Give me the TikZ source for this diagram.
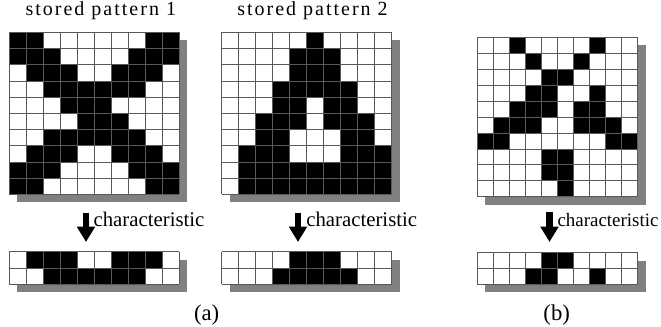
\documentclass[tikz,border=0pt]{standalone}
\usepackage{fontspec}
\setmainfont{Liberation Serif}
\newfontfamily\spacedfont[LetterSpace=10]{Liberation Serif}
\usetikzlibrary{arrows.meta}

\tikzset{
  cellfill/.style={fill=black},
  gridline/.style={draw=black!65, line width=0.55pt},
  shadowbox/.style={fill=black!50},
  bigarrow/.style={line width=5pt, -{Triangle[width=13pt,length=11.5pt]}},
  chartext/.style={font=\fontsize{15.6}{18}\selectfont, anchor=base west, inner sep=0pt},
  titletext/.style={font=\spacedfont\fontsize{15}{17}\selectfont, anchor=base, inner sep=0pt},
  captext/.style={font=\fontsize{17}{20}\selectfont, anchor=base, inner sep=0pt},
}

% #1 name, #2 x0, #3 y0, #4 cell w, #5 cell h, #6 rows count, #7 rows
\newcommand\pixgrid[7]{%
  \fill[shadowbox] (#2+8,#3+8) rectangle ++(10*#4,#6*#5);
  \fill[white] (#2,#3) rectangle ++(10*#4,#6*#5);
  \foreach \prow [count=\pr from 0] in {#7} {
    \foreach \pb [count=\pc from 0] in \prow {
      \ifnum\pb=1 \fill[cellfill] (#2+\pc*#4,#3+\pr*#5) rectangle ++(#4,#5);\fi
    }
  }
  \foreach \pc in {0,...,10} {\draw[gridline] (#2+\pc*#4,#3) -- ++(0,#6*#5);}
  \foreach \pr in {0,...,#6} {\draw[gridline] (#2,#3+\pr*#5) -- ++(10*#4,0);}
  \coordinate (#1) at (#2+5*#4,#3+#6*#5/2);
}

\begin{document}
\begin{tikzpicture}[x=0.75pt,y=-0.75pt]
\useasboundingbox (0,0) rectangle (661,326);

\node[titletext] (t1) at (100.8,15) {stored pattern 1};
\node[titletext] (t2) at (312.5,15) {stored pattern 2};

\pixgrid{p1}{9.3}{32.3}{17}{16.2}{10}{%
{1,1,0,0,0,0,0,0,1,1},
{1,1,1,0,0,0,0,1,1,1},
{0,1,1,1,0,0,1,1,1,0},
{0,0,1,1,1,1,1,1,0,0},
{0,0,0,1,1,1,0,0,0,0},
{0,0,0,0,1,1,1,0,0,0},
{0,0,1,1,1,1,1,1,0,0},
{0,1,1,1,0,0,1,1,1,0},
{1,1,1,0,0,0,0,1,1,1},
{1,1,0,0,0,0,0,0,1,1}}

\pixgrid{p2}{221.7}{32.3}{17}{16.2}{10}{%
{0,0,0,0,0,1,0,0,0,0},
{0,0,0,0,1,1,1,0,0,0},
{0,0,0,0,1,1,1,0,0,0},
{0,0,0,1,1,1,1,1,0,0},
{0,0,0,1,1,0,1,1,0,0},
{0,0,1,1,1,0,1,1,1,0},
{0,0,1,1,0,0,0,1,1,0},
{0,1,1,1,0,0,0,1,1,1},
{0,1,1,1,1,1,1,1,1,1},
{0,1,1,1,1,1,1,1,1,1}}

\pixgrid{pb}{477.3}{37.3}{16.04}{15.94}{10}{%
{0,0,1,0,0,0,0,1,0,0},
{0,0,0,1,0,0,1,0,0,0},
{0,0,0,0,1,1,0,0,0,0},
{0,0,0,1,1,0,0,1,0,0},
{0,0,1,1,1,0,1,1,0,0},
{0,1,1,1,0,0,1,1,1,0},
{1,1,0,0,0,0,0,0,1,1},
{0,0,0,0,1,1,0,0,0,0},
{0,0,0,0,1,1,0,0,0,0},
{0,0,0,0,0,1,0,0,0,0}}

\pixgrid{c1}{9.3}{251.7}{17}{16.3}{2}{%
{0,1,1,1,0,0,1,1,1,0},
{0,0,1,1,1,1,1,1,0,0}}

\pixgrid{c2}{221.7}{251.7}{17}{16.3}{2}{%
{0,0,0,0,1,1,1,0,0,0},
{0,0,0,1,1,1,1,1,0,0}}

\pixgrid{cb}{477.3}{252.7}{16.04}{15.8}{2}{%
{0,0,0,0,1,1,0,0,0,0},
{0,0,0,1,1,0,0,1,0,0}}

\coordinate (a1s) at (86,213);   \coordinate (a1e) at (86,242);
\coordinate (a2s) at (298,213);  \coordinate (a2e) at (298,242);
\coordinate (a3s) at (549.5,212);\coordinate (a3e) at (549.5,242);
\draw[bigarrow] (a1s) -- (a1e);
\draw[bigarrow] (a2s) -- (a2e);
\draw[bigarrow] (a3s) -- (a3e);

\node[chartext] (l1) at (93.3,226) {characteristic};
\node[chartext] (l2) at (306,226) {characteristic};
\node[chartext, font=\fontsize{14.2}{17}\selectfont] (l3) at (557.3,226.5) {characteristic};

\node[captext] (ca) at (206.7,320) {(a)};
\node[captext] (cbb) at (556.7,320) {(b)};
\end{tikzpicture}
\end{document}
